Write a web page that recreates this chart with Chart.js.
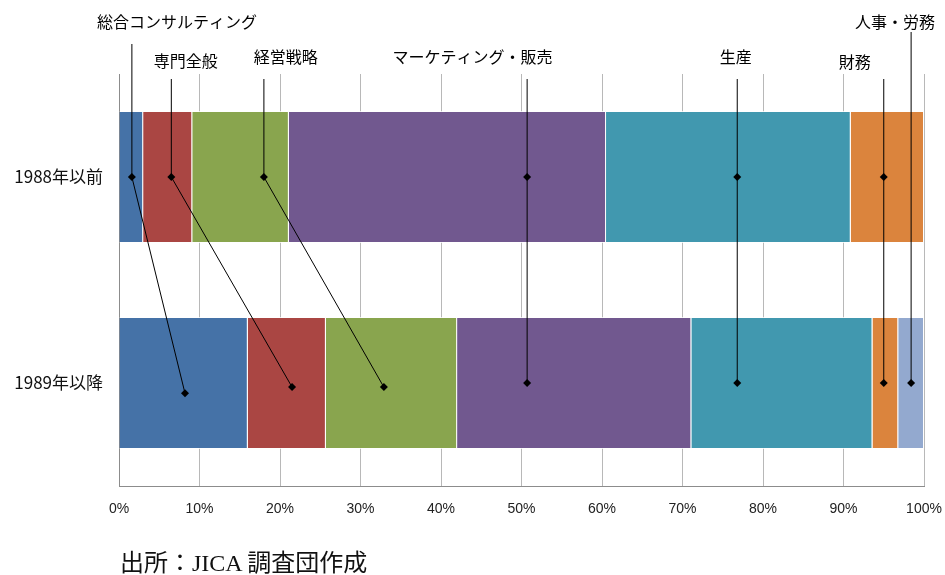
<!DOCTYPE html>
<html lang="ja">
<head>
<meta charset="utf-8">
<script src="https://cdn.jsdelivr.net/npm/chart.js@4.4.1/dist/chart.umd.min.js"></script>
<style>
  body { margin: 0; background: #fff; }
  .wrap { position: relative; width: 945px; height: 575px; }
  .source {
    position: absolute; left: 120px; top: 548px;
    font: 24px "Liberation Serif", "Noto Sans CJK JP", serif; color: #111;
    line-height: 30px;
  }
</style>
</head>
<body>
<div class="wrap">
  <canvas id="chart" width="945" height="575"></canvas>
  <div class="source">出所：JICA 調査団作成</div>
</div>
<script>
// 期間（カテゴリ）
const categories = ['1988年以前', '1989年以降'];

// 分野名
const fields = ['総合コンサルティング', '専門全般', '経営戦略', 'マーケティング・販売', '生産', '財務', '人事・労務'];

// 各分野の割合（%）: [1988年以前, 1989年以降]
const sougou    = [3.0, 16.0];
const senmon    = [6.1, 9.7];
const keiei     = [12.0, 16.3];
const marketing = [39.4, 29.1];
const seisan    = [30.4, 22.5];
const zaimu     = [9.1, 3.2];
const jinji     = [0, 3.2];

// 引き出し線の先（%）
const callout1988 = [1.6, 6.5, 18.0, 50.7, 76.8, 95.0, null];
const callout1989 = [8.2, 21.5, 32.9, 50.7, 76.8, 95.0, 98.4];

// x軸の目盛り
const xTicks = [0, 10, 20, 30, 40, 50, 60, 70, 80, 90, 100];

const colors = ['#4572A7', '#AA4643', '#89A54E', '#71588F', '#4198AF', '#DB843D', '#93A9CF'];
const values = [sougou, senmon, keiei, marketing, seisan, zaimu, jinji];

// ラベルの置き場所 (x は%、y は px)
const labelPos = [
  { x: 7.2,  y: 22, lineTop: 44 },
  { x: 8.3,  y: 61, lineTop: 79 },
  { x: 20.7, y: 57, lineTop: 79 },
  { x: 43.9, y: 57, lineTop: 79 },
  { x: 76.6, y: 57, lineTop: 79 },
  { x: 91.4, y: 62, lineTop: 79 },
  { x: 96.4, y: 22, lineTop: 32 },
];
const rowYShift = [[0, 0.05], [0, 0.02], [0, 0.02], [0, 0], [0, 0], [0, 0], [0, 0]];

const calloutPlugin = {
  id: 'callouts',
  afterDatasetsDraw(chart) {
    const { ctx, scales: { x, y } } = chart;
    ctx.save();
    ctx.strokeStyle = '#000';
    ctx.fillStyle = '#000';
    ctx.lineWidth = 1;
    fields.forEach((name, i) => {
      const pts = [];
      const v1 = callout1988[i], v2 = callout1989[i];
      pts.push([x.getPixelForValue(v1 != null ? v1 : v2), labelPos[i].lineTop]);
      if (v1 != null) pts.push([x.getPixelForValue(v1), y.getPixelForValue(0 + rowYShift[i][0])]);
      pts.push([x.getPixelForValue(v2), y.getPixelForValue(1 + rowYShift[i][1])]);
      ctx.beginPath();
      pts.forEach((p, k) => k ? ctx.lineTo(p[0], p[1]) : ctx.moveTo(p[0], p[1]));
      ctx.stroke();
      // 菱形マーカー
      pts.slice(1).forEach(p => {
        ctx.beginPath();
        ctx.moveTo(p[0], p[1] - 4);
        ctx.lineTo(p[0] + 4, p[1]);
        ctx.lineTo(p[0], p[1] + 4);
        ctx.lineTo(p[0] - 4, p[1]);
        ctx.closePath();
        ctx.fill();
      });
      // ラベル
      ctx.font = '16px "Noto Sans CJK JP", sans-serif';
      ctx.textAlign = 'center';
      ctx.textBaseline = 'middle';
      ctx.fillText(name, x.getPixelForValue(labelPos[i].x), labelPos[i].y);
    });
    ctx.restore();
  }
};

new Chart(document.getElementById('chart'), {
  type: 'bar',
  data: {
    labels: categories,
    datasets: fields.map((name, i) => ({
      label: name,
      data: values[i],
      backgroundColor: colors[i],
      borderColor: 'rgba(255,255,255,0.75)',
      borderWidth: 1,
      barPercentage: 0.64,
      categoryPercentage: 1,
    })),
  },
  options: {
    indexAxis: 'y',
    responsive: false,
    animation: false,
    layout: { padding: { top: 74, right: 21, bottom: 49, left: 0 } },
    plugins: { legend: { display: false }, tooltip: { enabled: false } },
    scales: {
      x: {
        stacked: true,
        min: 0,
        max: 100,
        afterBuildTicks: s => { s.ticks = xTicks.map(v => ({ value: v })); },
        afterFit: s => { s.height = 40; s.paddingLeft = 0; s.paddingRight = 0; },
        ticks: {
          callback: v => v + '%',
          color: '#222',
          padding: 15,
          maxRotation: 0,
          font: { family: '"Liberation Sans", sans-serif', size: 14 },
        },
        grid: { color: '#b8b8b8', drawTicks: false },
        border: { color: '#8c8c8c' },
      },
      y: {
        stacked: true,
        afterFit: s => { s.width = 119; },
        ticks: {
          color: '#111',
          padding: 16,
          font: { family: '"Noto Sans CJK JP", sans-serif', size: 17 },
        },
        grid: { display: false, drawTicks: false },
        border: { color: '#8c8c8c' },
      },
    },
  },
  plugins: [calloutPlugin],
});
</script>
</body>
</html>
